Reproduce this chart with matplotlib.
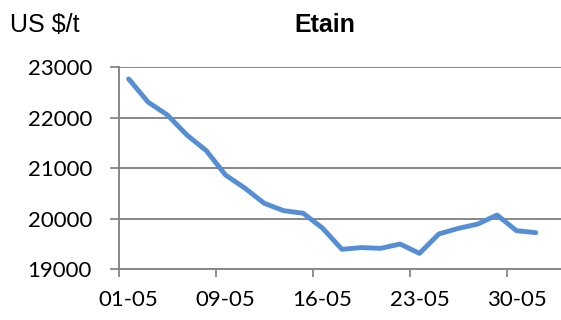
import matplotlib
matplotlib.use("Agg")
import matplotlib.pyplot as plt

# Etain (tin) price, May, one point per trading day
dates = ["01-05", "02-05", "03-05", "07-05", "08-05", "09-05", "10-05", "13-05",
         "14-05", "15-05", "16-05", "17-05", "20-05", "21-05", "22-05", "23-05",
         "24-05", "27-05", "28-05", "29-05", "30-05", "31-05"]
prices = [22770, 22310, 22055, 21660, 21350, 20865, 20605, 20305,
          20160, 20110, 19815, 19395, 19430, 19415, 19500, 19315,
          19700, 19810, 19895, 20075, 19765, 19725]
label_idx = [0, 5, 10, 15, 20]
xlabels = ["01-05", "09-05", "16-05", "23-05", "30-05"]
yticks = [19000, 20000, 21000, 22000, 23000]

GRID = "#878787"
BLUE = "#558ED5"
TICKFONT = "Lato"

fig = plt.figure(figsize=(5.61, 3.20), dpi=100)
ax = fig.add_axes([119 / 561, 50.7 / 320, 1 - 119 / 561, (269.3 - 67.3) / 320])

x = list(range(len(prices)))
ax.plot(x, prices, color=BLUE, lw=3.5, solid_capstyle="round", solid_joinstyle="round", zorder=3)

ax.set_xlim(-0.5, 22.3)
ax.set_ylim(19000, 23000)

ax.set_yticks(yticks)
ax.set_yticklabels([str(v) for v in yticks], fontsize=16, family=TICKFONT)
ax.tick_params(axis="y", length=6.5, width=1.3, color=GRID, pad=13)
ax.yaxis.grid(True, color=GRID, lw=1.4)
ax.set_axisbelow(True)

ax.set_xticks(label_idx)
ax.set_xticklabels(xlabels, fontsize=16, family=TICKFONT)
ax.set_xticks([i - 0.5 for i in label_idx], minor=True)
ax.tick_params(axis="x", which="major", length=0, pad=15)
ax.tick_params(axis="x", which="minor", length=5.5, width=1.3, color=GRID)

for s in ["top", "right"]:
    ax.spines[s].set_visible(False)
for s in ["left", "bottom"]:
    ax.spines[s].set_color(GRID)
    ax.spines[s].set_linewidth(1.4)

fig.text(10 / 561, 1 - 32 / 320, "US $/t", fontsize=18, family="Liberation Sans", ha="left", va="baseline")
fig.text(325 / 561, 1 - 32 / 320, "Etain", fontsize=18, family="Liberation Sans", fontweight="bold",
         ha="center", va="baseline")

fig.savefig("out.png", dpi=100)
